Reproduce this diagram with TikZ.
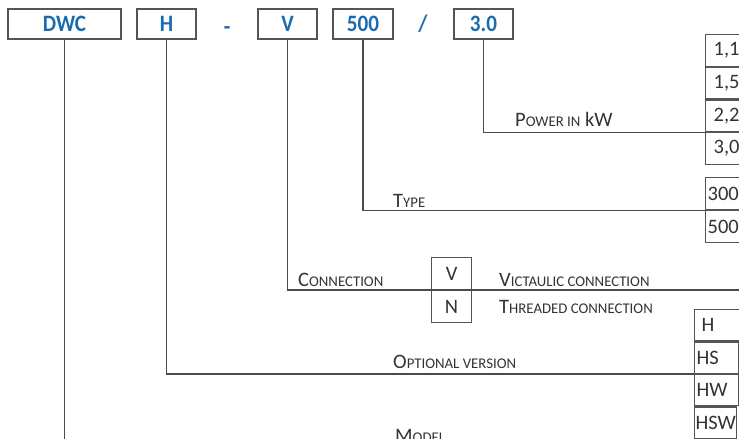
\documentclass[tikz,border=0pt]{standalone}
\usepackage{fontspec}
\setmainfont{Carlito}
\newfontfamily\codefont{Carlito}[FakeStretch=0.9]
\definecolor{codeblue}{HTML}{1A6BB0}
\definecolor{boxgray}{HTML}{555555}
\definecolor{linegray}{HTML}{4A4A4A}
\definecolor{txtgray}{HTML}{333333}
\newcommand{\mysc}[1]{{\fontsize{14.8}{14.8}\selectfont #1}}
\begin{document}
\begin{tikzpicture}[x=1pt,y=-1pt,
  codebox/.style={draw=boxgray, line width=1.2pt, minimum height=30, inner sep=0pt,
    text=codeblue, font=\codefont\fontsize{23.5}{23.5}\bfseries\selectfont},
  sepchar/.style={inner sep=0pt, text=codeblue, font=\codefont\fontsize{23.5}{23.5}\bfseries\selectfont},
  conn/.style={draw=linegray, line width=1.2pt},
  valbox/.style={draw=boxgray, line width=1.2pt, anchor=north west, text width=40pt,
    align=left, inner ysep=0pt, text=txtgray, font=\fontsize{20.5}{20.5}\selectfont},
  vnbox/.style={draw=boxgray, line width=1.2pt, anchor=north west, minimum width=40,
    minimum height=32, inner sep=0pt, text=txtgray, font=\fontsize{20.5}{20.5}\selectfont},
  lbl/.style={anchor=base west, inner sep=0pt, text=txtgray, font=\fontsize{20.5}{20.5}\selectfont}
]
\useasboundingbox (0,0) rectangle (739,439);

% code boxes
\node[codebox, minimum width=113] (dwc) at (64.5,24) {DWC};
\node[codebox, minimum width=59] (hbox) at (166.5,24) {H};
\node[sepchar] (dash) at (227,31) {-};
\node[codebox, minimum width=59] (vbox) at (287.5,24) {V};
\node[codebox, minimum width=60] (b500) at (363,24) {500};
\node[sepchar] (slash) at (423,24) {/};
\node[codebox, minimum width=59] (b30) at (483.5,24) {3.0};

% power column
\node[valbox, minimum height=31.5, inner xsep=8pt] (p1) at (705,34) {1,1};
\node[valbox, minimum height=31.5, inner xsep=8pt] (p2) at (p1.south west) {1,5};
\node[valbox, minimum height=31.5, inner xsep=8pt] (p3) at (p2.south west) {2,2};
\node[valbox, minimum height=31.5, inner xsep=8pt] (p4) at (p3.south west) {3,0};

% type column
\node[valbox, minimum height=32, inner xsep=2pt] (t1) at (705,177) {300};
\node[valbox, minimum height=32, inner xsep=2pt] (t2) at (t1.south west) {500};

% connection box
\node[vnbox] (cv) at (431,257) {V};
\node[vnbox] (cn) at (cv.south west) {N};

% optional column
\node[valbox, minimum height=31.25, inner xsep=7pt] (o1) at (694,309) {H};
\node[valbox, minimum height=31.25, inner xsep=2pt] (o2) at (o1.south west) {HS};
\node[valbox, minimum height=31.25, inner xsep=2pt] (o3) at (o2.south west) {HW};
\node[valbox, minimum height=31.25, inner xsep=1pt] (o4) at (o3.south west) {HSW};

% connector ends
\coordinate (mdlend) at (64.5,450);
\coordinate (connend) at (750,290);

% connectors
\draw[conn] (dwc.south) -- (dwc.south |- mdlend);
\draw[conn] (hbox.south) |- (o2.south west);
\draw[conn] (vbox.south) |- (connend);
\draw[conn] (b500.south) |- (t1.south west);
\draw[conn] (b30.south) |- (p3.south west);

% labels
\node[lbl] (lpow) at (515,126) {P\mysc{OWER IN} kW};
\node[lbl] (ltype) at (393,207) {T\mysc{YPE}};
\node[lbl] (lconn) at (298,286) {C\mysc{ONNECTION}};
\node[lbl] (lvic) at (499,286) {V\mysc{ICTAULIC CONNECTION}};
\node[lbl] (lthr) at (499,313) {T\mysc{HREADED CONNECTION}};
\node[lbl] (lopt) at (393,368) {O\mysc{PTIONAL VERSION}};
\node[lbl] (lmod) at (395,442) {M\mysc{ODEL}};
\end{tikzpicture}
\end{document}
